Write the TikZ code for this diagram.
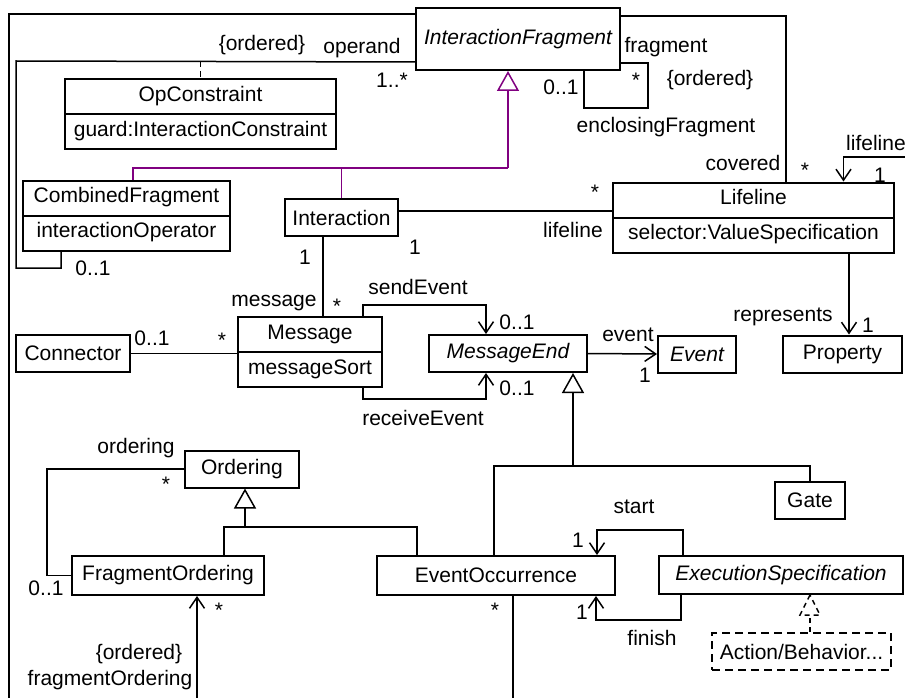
\documentclass[tikz,border=0pt]{standalone}
\usepackage{fontspec}
\setmainfont{Liberation Sans}
\usepackage{xcolor}
\usetikzlibrary{arrows.meta, shapes.multipart}

\definecolor{genpurple}{RGB}{128,0,128}

\begin{document}
\begin{tikzpicture}[x = 1pt, y = -1pt,
		font = \fontsize{21}{24}\selectfont,
		clsbox/.style = {draw, line width = 2pt, inner sep = 0pt, minimum height = 37pt},
		clstwo/.style = {draw, line width = 2pt, rectangle split, rectangle split parts = 2, inner xsep = 0pt, inner ysep = 4.5pt},
		abstract/.style = {font = \fontsize{21}{24}\selectfont\itshape},
		lbl/.style = {inner sep = 0pt},
		assoc/.style = {line width = 1.5pt},
		nav/.style = {assoc, -{Straight Barb[length = 11pt, width = 15pt, line width = 1.5pt]}},
		gen/.style = {assoc, -{Triangle[open, length = 20pt, width = 22pt, line width = 1.5pt]}}]
	\useasboundingbox (0,0) rectangle (905,698);

	\begin{scope}
		\node [clsbox, abstract, minimum width = 204pt, minimum height = 62pt] (ifrag) at (518,39) {InteractionFragment};
		\node [clstwo, minimum width = 271pt] (opcon) at (200.5,114.5) {\strut OpConstraint\nodepart{two}\strut guard:InteractionConstraint};
		\node [clstwo, minimum width = 207pt] (cfrag) at (126.5,215.5) {\strut CombinedFragment\nodepart{two}\strut interactionOperator};
		\node [clsbox, minimum width = 113pt] (inter) at (341.5,217.5) {Interaction};
		\node [clstwo, minimum width = 281pt] (lifel) at (753.5,217.5) {\strut Lifeline\nodepart{two}\strut selector:ValueSpecification};
		\node [clsbox, minimum width = 114pt] (conn) at (73,353.5) {Connector};
		\node [clstwo, minimum width = 144pt] (msg) at (310,352) {\strut Message\nodepart{two}\strut messageSort};
		\node [clsbox, abstract, minimum width = 158pt] (mend) at (508,353.5) {MessageEnd};
		\node [clsbox, abstract, minimum width = 78pt] (event) at (697,354) {Event};
		\node [clsbox, minimum width = 119pt] (prop) at (842.5,354) {Property};
		\node [clsbox, minimum width = 114pt] (order) at (242,469) {Ordering};
		\node [clsbox, minimum width = 70pt] (gate) at (810,500) {Gate};
		\node [clsbox, minimum width = 192pt, minimum height = 39pt] (fragord) at (168,575.5) {FragmentOrdering};
		\node [clsbox, minimum width = 238pt, minimum height = 39pt] (evocc) at (496,575.5) {EventOccurrence};
		\node [clsbox, abstract, minimum width = 244pt, minimum height = 38pt] (exspec) at (781,575) {ExecutionSpecification};
		\node [clsbox, dash pattern = on 8pt off 5pt, minimum width = 179pt] (actbeh) at (801.5,651.5) {Action/Behavior...};
	\end{scope}

	\begin{scope}
		\coordinate (frameL) at (9,698);
		\coordinate (opTL) at (16,61);
		\coordinate (opBR) at (61,268);
		\coordinate (genTop) at (508,168);
		\coordinate (lifeR) at (905,157);
		\coordinate (loopBR) at (648,108);
		\coordinate (msgTop) at ([xshift = 13pt]msg.north);
		\coordinate (sendC) at (486,305);
		\coordinate (recvC) at (486,399);
		\coordinate (repS) at ([xshift = 95.5pt]lifel.south);
		\coordinate (meJoin) at (573,466);
		\coordinate (ordJoin) at (245,527);
		\coordinate (ordL) at (47,469);
		\coordinate (foBot) at (197,698);
		\coordinate (eoBot) at (513,698);
		\coordinate (startC) at (597,530);
		\coordinate (finC) at (596,620);
		\coordinate (realTip) at ([xshift = 29pt]exspec.south);

		\draw [assoc] ([yshift = -7pt]ifrag.north west) -| (frameL);
		\draw [assoc] ([yshift = 9pt]ifrag.south west) -- (opTL) |- (opBR) -- (opBR |- cfrag.south);
		\draw [assoc, dash pattern = on 6pt off 4pt] (opcon.north |- opTL) -- (opcon.north);
		\draw [assoc] ([yshift = -9pt]ifrag.north east) -| ([xshift = 32.5pt]lifel.north);
		\draw [nav] (lifeR) -| ([xshift = 90pt]lifel.north);
		\draw [assoc] ([xshift = 66pt]ifrag.south) |- (loopBR) |- ([yshift = 8pt]ifrag.south east);
		\draw [assoc] ([yshift = 6.5pt]inter.east) -- ([yshift = 6.5pt]lifel.west);
		\draw [assoc] (msgTop |- inter.south) -- (msgTop);
		\draw [assoc] (conn.east) -- (conn.east -| msg.west);
		\draw [nav] ([xshift = 53pt]msg.north) |- (sendC) -- (sendC |- mend.north);
		\draw [nav] ([xshift = 53pt]msg.south) |- (recvC) -- (recvC |- mend.south);
		\draw [nav] (mend.east) -- (event.west);
		\draw [nav] (repS) -- (repS |- prop.north);
		\draw [assoc] (order.west) -- (ordL) |- (fragord.west);
		\draw [nav] (foBot) -- (foBot |- fragord.south);
		\draw [assoc] (eoBot) -- (eoBot |- evocc.south);
		\draw [nav] ([xshift = -98pt]exspec.north) |- (startC) -- (startC |- evocc.north);
		\draw [nav] ([xshift = -100pt]exspec.south) |- (finC) -- (finC |- evocc.south);
	\end{scope}

	\begin{scope}
		\draw [gen, genpurple] (genTop) -- (genTop |- ifrag.south);
		\draw [assoc, genpurple] ([xshift = 6.5pt]cfrag.north) |- (genTop);
		\draw [assoc, genpurple] (inter.north) |- (genTop);
		\draw [gen] (meJoin) -- (meJoin |- mend.south);
		\draw [assoc] ([xshift = -2pt]evocc.north) |- (meJoin) -| (gate.north);
		\draw [gen] (ordJoin) -- (ordJoin |- order.south);
		\draw [assoc] ([xshift = 56pt]fragord.north) |- (ordJoin) -| ([xshift = -79pt]evocc.north);
		\draw [assoc, dash pattern = on 5pt off 4pt] ([xshift = 8.5pt]actbeh.north) -- ([yshift = -20pt]realTip);
		\draw [assoc, dash pattern = on 5pt off 4pt] (realTip) -- ++(-10,20) -- ++(20,0) -- cycle;
	\end{scope}

	\begin{scope}[every node/.style = {lbl}]
		\node (lOrdA) at (262,45) {\{ordered\}};
		\node (lOperand) at (362,48) {operand};
		\node (lOpMult) at (392,80) {1..*};
		\node (lCfMult) at (93,268) {0..1};
		\node (lFrag) at (666,47) {fragment};
		\node (lEncMult) at (561,87) {0..1};
		\node (lFragMult) at (636,80) {*};
		\node (lOrdB) at (710,80) {\{ordered\}};
		\node (lEnc) at (666,127) {enclosingFragment};
		\node (lCovered) at (743,163) {covered};
		\node (lCovMult) at (805,170) {*};
		\node (lLifeTop) at (876,143) {lifeline};
		\node (lLifeTopMult) at (880,175) {1};
		\node (lLifeMult) at (595,192) {*};
		\node (lLife) at (573,230) {lifeline};
		\node (lInterMult) at (415,247) {1};
		\node (lMsgInter) at (305,257) {1};
		\node (lMsg) at (274,303) {message};
		\node (lMsgMult) at (337,306) {*};
		\node (lSend) at (418,287) {sendEvent};
		\node (lSendMult) at (517,322) {0..1};
		\node (lRecv) at (423,418) {receiveEvent};
		\node (lRecvMult) at (517,388) {0..1};
		\node (lConnMult) at (152,338) {0..1};
		\node (lConnMsg) at (222,340) {*};
		\node (lEvent) at (628,335) {event};
		\node (lEventMult) at (645,375) {1};
		\node (lRep) at (783,317) {represents};
		\node (lRepMult) at (868,325) {1};
		\node (lOrdering) at (136,448) {ordering};
		\node (lOrdMult) at (166,484) {*};
		\node (lFoMult) at (46,588) {0..1};
		\node (lFoBotMult) at (219,610) {*};
		\node (lOrdC) at (139,654) {\{ordered\}};
		\node (lFragOrd) at (110,680) {fragmentOrdering};
		\node (lEoMult) at (495,610) {*};
		\node (lStart) at (634,507) {start};
		\node (lStartMult) at (578,540) {1};
		\node (lFinMult) at (582,612) {1};
		\node (lFinish) at (652,638) {finish};
	\end{scope}
\end{tikzpicture}
\end{document}
